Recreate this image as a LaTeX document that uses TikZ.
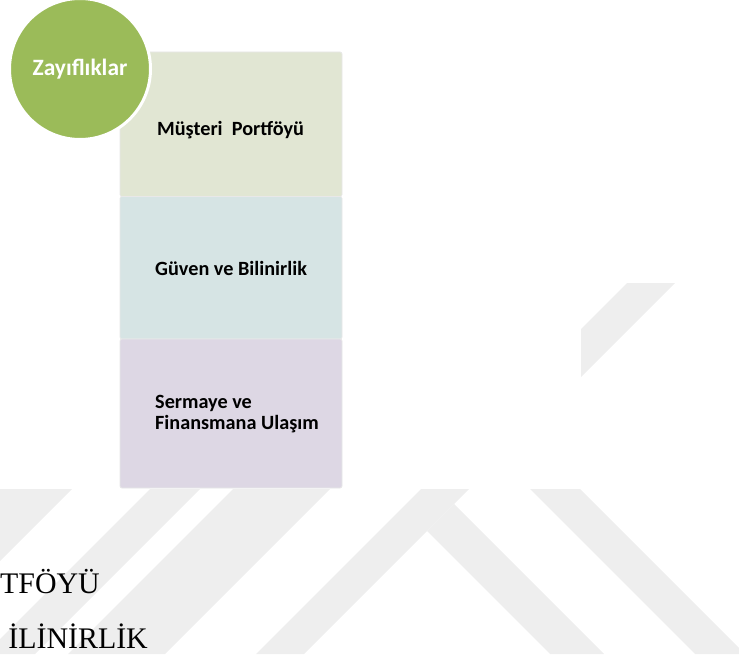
\documentclass[tikz,border=0pt]{standalone}
\usepackage{fontspec}
\newfontfamily\calfont{Carlito}
\newfontfamily\timesfont{Liberation Serif}
\definecolor{wm}{HTML}{EEEEEE}
\definecolor{olivec}{HTML}{9BBB59}
\definecolor{secg}{HTML}{E1E6D3}
\definecolor{secb}{HTML}{D6E4E4}
\definecolor{secp}{HTML}{DDD7E4}
\tikzset{
  band/.style={fill=wm, draw=none},
  sect/.style={rectangle, rounded corners=2bp, draw=black!9, line width=0.7bp,
    minimum width=222bp, inner sep=0pt},
  lbl/.style={font=\calfont\bfseries\fontsize{20.3}{22}\selectfont, anchor=base west,
    inner sep=0pt, text=black},
  bottomtext/.style={font=\timesfont\fontsize{30}{36}\selectfont, anchor=base east,
    inner sep=0pt},
}
\begin{document}
\begin{tikzpicture}[x=1bp,y=-1bp]
\useasboundingbox (0,0) rectangle (739,661);
\clip (0,0) rectangle (739,661);
% watermark bands
\fill[band] (470-489,489) -- (561-489,489) -- (561-654,654) -- (470-654,654) -- cycle;
\fill[band] (639-489,489) -- (689-489,489) -- (689-654,654) -- (639-654,654) -- cycle;
\fill[band] (722-489,489) -- (819-489,489) -- (819-654,654) -- (722-654,654) -- cycle;
\fill[band] (910-283,283) -- (958-283,283) -- (958-654,654) -- (910-654,654) -- cycle;
\fill[band] (427,531) -- (454,504) -- (604,654) -- (550,654) -- cycle;
\fill[band] (441,400) -- (491,400) -- (745,654) -- (695,654) -- cycle;
% white area of the diagram picture
\fill[white] (0,0) rectangle (581,489);
% sections
\node[sect, fill=secg, minimum height=144.5bp] (s1) at (231,124.25) {};
\node[sect, fill=secb, minimum height=142.5bp] (s2) at (231,267.75) {};
\node[sect, fill=secp, minimum height=149bp] (s3) at (231,413.5) {};
% circle
\node[circle, fill=olivec, draw=white, line width=3bp, minimum size=141bp, inner sep=0pt,
  font=\calfont\bfseries\fontsize{23.5}{26}\selectfont, text=white] (zay) at (80,69) {Zayıflıklar};
% labels
\node[lbl] (t1) at (157,136) {Müşteri\ \ Portföyü};
\node[lbl] (t2) at (155,275) {Güven ve Bilinirlik};
\node[lbl] (t3a) at (155,408) {Sermaye ve};
\node[lbl] (t3b) at (155,429) {Finansmana Ulaşım};
% page text
\node[bottomtext] (p1) at (100,593) {TFÖYÜ};
\node[bottomtext] (p2) at (148,648) {İLİNİRLİK};
\end{tikzpicture}
\end{document}
